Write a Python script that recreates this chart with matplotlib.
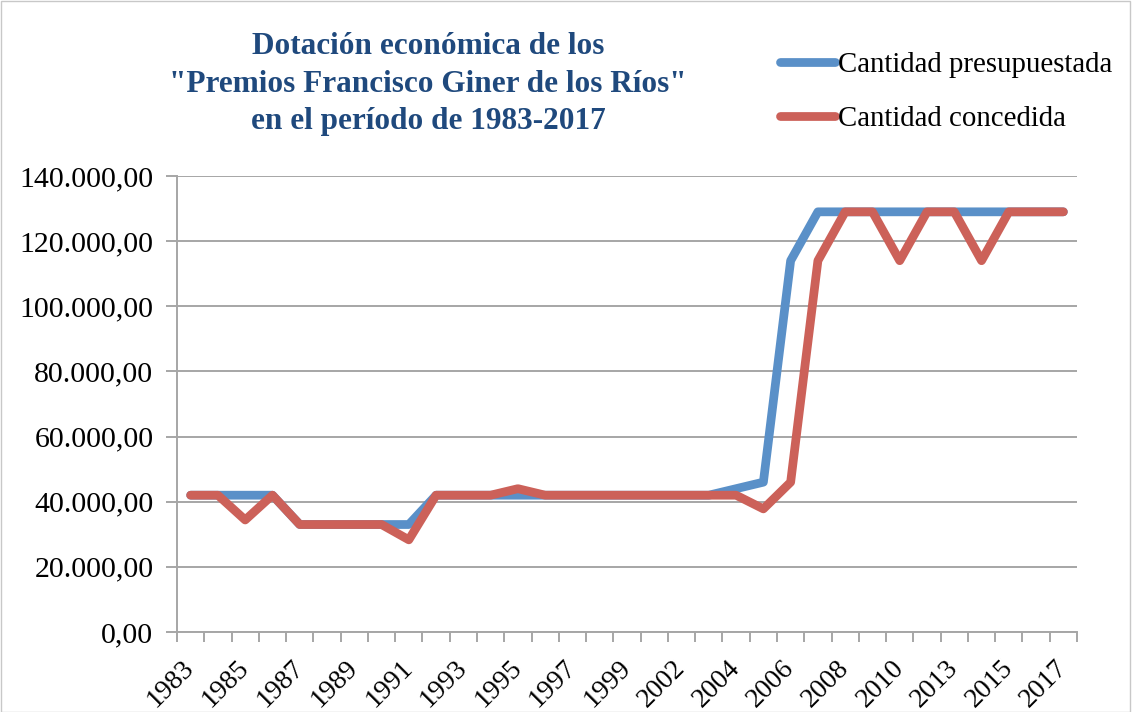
import matplotlib
matplotlib.use("Agg")
import matplotlib.pyplot as plt
from matplotlib.ticker import FuncFormatter, FixedLocator
from matplotlib.patches import Rectangle

years = ["1983", "1984", "1985", "1986", "1987", "1988", "1989", "1990", "1991",
         "1992", "1993", "1994", "1995", "1996", "1997", "1998", "1999", "2000",
         "2002", "2003", "2004", "2005", "2006", "2007", "2008", "2009", "2010",
         "2011", "2013", "2014", "2015", "2016", "2017"]

presupuestada = [42000, 42000, 42000, 42000, 33000, 33000, 33000, 33000, 33000,
                 42000, 42000, 42000, 42000, 42000, 42000, 42000, 42000, 42000,
                 42000, 42000, 44000, 46000, 114000, 129000, 129000, 129000, 129000,
                 129000, 129000, 129000, 129000, 129000, 129000]

concedida = [42000, 42000, 34400, 42000, 33000, 33000, 33000, 33000, 28300,
             42000, 42000, 42000, 44000, 42000, 42000, 42000, 42000, 42000,
             42000, 42000, 42000, 37800, 46000, 114000, 129000, 129000, 114000,
             129000, 129000, 114000, 129000, 129000, 129000]

series_names = ["Cantidad presupuestada", "Cantidad concedida"]
title_text = 'Dotación económica de los\n"Premios Francisco Giner de los Ríos"\nen el período de 1983-2017'

blue = "#5A90C8"
red = "#CC6159"
grid_c = "#A6A6A6"
serif = ["Liberation Serif", "DejaVu Serif"]

W, H = 1132, 712
fig = plt.figure(figsize=(W / 100, H / 100), dpi=100)
fig.patch.set_facecolor("white")

ax = fig.add_axes([177 / W, 1 - 632 / H, 900 / W, 456 / H])
x = list(range(len(years)))
lw = 6.3
l1, = ax.plot(x, presupuestada, color=blue, lw=lw, solid_capstyle="round",
              solid_joinstyle="round", zorder=3)
l2, = ax.plot(x, concedida, color=red, lw=lw, solid_capstyle="round",
              solid_joinstyle="round", zorder=4)

ax.set_xlim(-0.5, len(years) - 0.5)
ax.set_ylim(0, 140000)
ax.set_yticks(range(0, 140001, 20000))
ax.yaxis.set_major_formatter(FuncFormatter(
    lambda v, p: f"{v:,.2f}".replace(",", "X").replace(".", ",").replace("X", ".")))
ax.grid(axis="y", color=grid_c, lw=1.4, zorder=0)

# category boundaries as ticks, labels at every second category
ax.xaxis.set_major_locator(FixedLocator([i - 0.5 for i in range(len(years) + 1)]))
ax.set_xticklabels([])
ax.xaxis.set_minor_locator(FixedLocator(x[::2]))
ax.set_xticklabels(years[::2], minor=True)
ax.tick_params(axis="x", which="minor", length=0, pad=23)
ax.tick_params(axis="x", which="major", length=7, width=1.4, color=grid_c)
ax.tick_params(axis="y", length=8, width=1.4, color=grid_c, pad=9)
for lab in ax.get_xticklabels(minor=True):
    lab.set_rotation(45)
    lab.set_rotation_mode("anchor")
    lab.set_ha("right")
    lab.set_va("center")
    lab.set_fontsize(20)
    lab.set_family(serif)
for lab in ax.get_yticklabels():
    lab.set_fontsize(21.5)
    lab.set_family(serif)

for s in ["top", "right"]:
    ax.spines[s].set_visible(False)
for s in ["left", "bottom"]:
    ax.spines[s].set_color(grid_c)
    ax.spines[s].set_linewidth(1.4)

fig.text(428 / W, 1 - 84 / H, title_text, ha="center", va="center",
         fontsize=22.5, fontweight="bold", color="#1F497D", family=serif,
         linespacing=1.38)

leg = fig.legend([l1, l2], series_names, loc="upper left",
                 bbox_to_anchor=(780 / W, 1 - 52 / H), frameon=False,
                 borderpad=0, borderaxespad=0, handlelength=1.9,
                 handletextpad=0.12, labelspacing=0.96,
                 prop={"family": serif, "size": 20.75})

fig.patches.append(Rectangle((0.0005, 0.0005), 0.998, 0.998, transform=fig.transFigure,
                             fill=False, edgecolor="#C8C8C8", lw=1))

fig.savefig("out.png", dpi=100)
